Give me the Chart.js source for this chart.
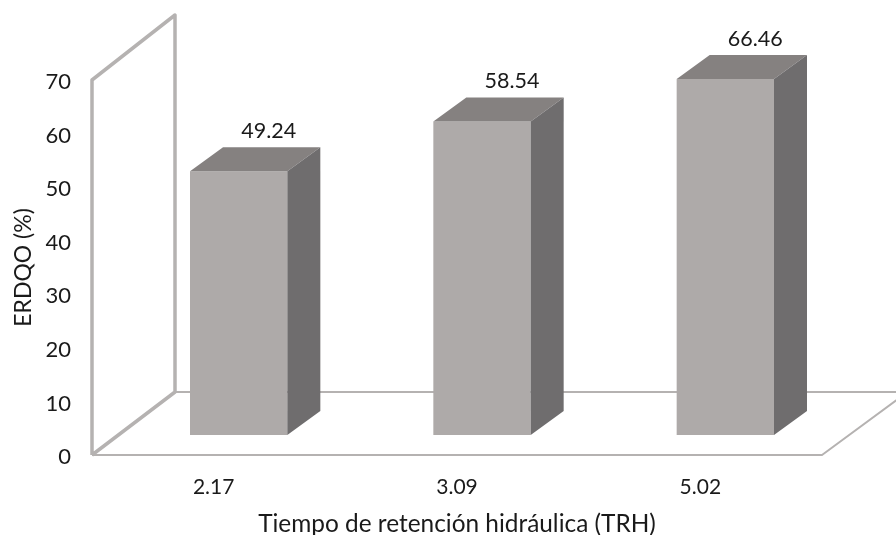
<!DOCTYPE html>
<html>
<head>
<meta charset="utf-8">
<style>
  html, body { margin: 0; padding: 0; background: #fff; }
  canvas { display: block; }
</style>
<script src="https://cdn.jsdelivr.net/npm/chart.js@4"></script>
</head>
<body>
<canvas id="myChart" width="896" height="535"></canvas>
<script>
var categories = ['2.17', '3.09', '5.02'];
var erdqo = [49.24, 58.54, 66.46];
var yTicks = [0, 10, 20, 30, 40, 50, 60, 70];

var fontName = 'Lato, "Open Sans", sans-serif';
var depthX = 33, depthY = 24;       // how far the bars go back
var wallX = 83, wallY = 63;         // how far the walls go back
var barShiftX = 25, barShiftY = 20; // bars stand in the middle of the floor

// walls and floor, behind everything
var walls = {
  id: 'walls',
  beforeDatasetsDraw: function (chart) {
    var c = chart.ctx, a = chart.chartArea;
    c.save();
    c.strokeStyle = '#b5b2b1';
    c.lineJoin = 'round';

    c.lineWidth = 2;
    c.beginPath();
    c.moveTo(a.left + wallX, a.bottom - wallY);
    c.lineTo(896, a.bottom - wallY);
    c.moveTo(a.left, a.bottom);
    c.lineTo(a.right, a.bottom);
    c.lineTo(a.right + wallX, a.bottom - wallY + 2);
    c.stroke();

    c.lineWidth = 3.5;
    c.beginPath();
    c.moveTo(a.left, a.bottom);
    c.lineTo(a.left, a.top);
    c.lineTo(a.left + wallX, a.top - 65);
    c.lineTo(a.left + wallX, a.bottom - wallY);
    c.lineTo(a.left, a.bottom);
    c.stroke();
    c.restore();
  }
};

// moves the library's bars back and adds the top and side faces
var bars3d = {
  id: 'bars3d',
  beforeDatasetDraw: function (chart) {
    chart.ctx.save();
    chart.ctx.translate(barShiftX, -barShiftY);
  },
  afterDatasetDraw: function (chart, args) {
    var c = chart.ctx;
    args.meta.data.forEach(function (bar, i) {
      var l = bar.x - bar.width / 2, r = bar.x + bar.width / 2;

      c.fillStyle = '#858180';
      c.beginPath();
      c.moveTo(l, bar.y);
      c.lineTo(l + depthX, bar.y - depthY);
      c.lineTo(r + depthX, bar.y - depthY);
      c.lineTo(r, bar.y);
      c.closePath();
      c.fill();

      c.fillStyle = '#6f6d6e';
      c.beginPath();
      c.moveTo(r, bar.y);
      c.lineTo(r + depthX, bar.y - depthY);
      c.lineTo(r + depthX, bar.base - depthY);
      c.lineTo(r, bar.base);
      c.closePath();
      c.fill();

      c.fillStyle = '#1a1a1a';
      c.font = '21.5px ' + fontName;
      c.textAlign = 'center';
      c.textBaseline = 'middle';
      c.fillText(erdqo[i].toFixed(2), bar.x + 30, bar.y - 40);
    });
    c.restore();
  }
};

new Chart(document.getElementById('myChart'), {
  type: 'bar',
  data: {
    labels: categories,
    datasets: [{
      label: 'ERDQO (%)',
      data: erdqo,
      backgroundColor: '#aeaaa9',
      borderWidth: 0,
      barPercentage: 0.4,
      categoryPercentage: 1,
      clip: false
    }]
  },
  options: {
    responsive: false,
    animation: false,
    devicePixelRatio: 1,
    layout: { padding: { top: 80, right: 74, left: 0, bottom: 0 } },
    plugins: { legend: { display: false }, tooltip: { enabled: false } },
    scales: {
      x: {
        grid: { display: false },
        border: { display: false },
        afterFit: function (s) { s.height = 80; },
        ticks: { color: '#1a1a1a', padding: 12, maxRotation: 0, font: { family: fontName, size: 21 } },
        title: {
          display: true,
          text: 'Tiempo de retención hidráulica (TRH)',
          color: '#1a1a1a',
          padding: { top: 8, bottom: -3.5 },
          font: { family: fontName, size: 24.4 }
        }
      },
      y: {
        min: 0,
        max: 70,
        grid: { display: false },
        border: { display: false },
        afterFit: function (s) { s.width = 92; },
        afterBuildTicks: function (s) {
          s.ticks = yTicks.map(function (v) { return { value: v }; });
        },
        ticks: { color: '#1a1a1a', padding: 13, labelOffset: 2, font: { family: fontName, size: 22 } },
        title: {
          display: true,
          text: 'ERDQO (%)',
          color: '#1a1a1a',
          padding: { top: 10, bottom: 0 },
          font: { family: fontName, size: 23 }
        }
      }
    }
  },
  plugins: [walls, bars3d]
});
</script>
</body>
</html>
